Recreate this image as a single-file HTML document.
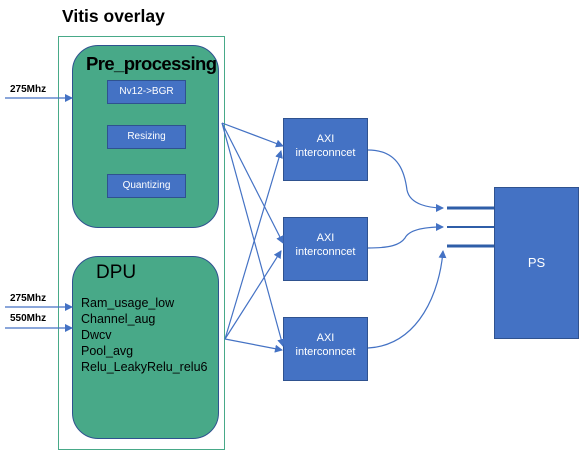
<!DOCTYPE html>
<html><head><meta charset="utf-8"><style>
body{margin:0;width:579px;height:450px;background:#fff;overflow:hidden;position:relative;font-family:"Liberation Sans","Noto Sans CJK SC",sans-serif}
div{position:absolute;box-sizing:border-box}
.g{background:#48a988;border:1px solid #2f528f;border-radius:26px}
.s{background:#4472c4;border:1px solid #2f528f;color:#fff;font-size:10px;text-align:center;line-height:22px}
.b{background:#4472c4;border:1px solid #2f528f;color:#fff;font-size:11px;text-align:center}
.t{font-size:10px;font-weight:bold;color:#000}
</style></head><body>
<div style="left:62px;top:6px;font-size:17.5px;font-weight:bold">Vitis overlay</div>
<div style="left:58px;top:36px;width:167px;height:414px;border:1px solid #48a988"></div>
<div class="g" style="left:72px;top:45px;width:147px;height:183px"></div>
<div style="left:86px;top:53px;font-size:18.5px;font-weight:bold;letter-spacing:-0.6px">Pre_processing</div>
<div class="s" style="left:107px;top:80px;width:79px;height:24px">Nv12->BGR</div>
<div class="s" style="left:107px;top:125px;width:79px;height:24px">Resizing</div>
<div class="s" style="left:107px;top:174px;width:79px;height:24px">Quantizing</div>
<div class="g" style="left:72px;top:256px;width:147px;height:183px"></div>
<div style="left:96px;top:262px;font-size:19px">DPU</div>
<div style="left:81px;top:295px;font-size:12.5px;line-height:16px">Ram_usage_low<br>Channel_aug<br>Dwcv<br>Pool_avg<br>Relu_LeakyRelu_relu6</div>
<div class="t" style="left:10px;top:84px">275Mhz</div>
<div class="t" style="left:10px;top:293px">275Mhz</div>
<div class="t" style="left:10px;top:313px">550Mhz</div>
<div class="b" style="left:283px;top:118px;width:85px;height:63px;padding-top:13px;line-height:14px">AXI<br>interconncet</div>
<div class="b" style="left:283px;top:217px;width:85px;height:64px;padding-top:13px;line-height:14px">AXI<br>interconncet</div>
<div class="b" style="left:283px;top:317px;width:85px;height:64px;padding-top:13px;line-height:14px">AXI<br>interconncet</div>
<div class="b" style="left:494px;top:187px;width:85px;height:152px;line-height:150px;font-size:13px">PS</div>
<svg width="579" height="450" style="position:absolute;left:0;top:0">
<defs><marker id="a" markerWidth="8" markerHeight="8" refX="7" refY="4" orient="auto" markerUnits="userSpaceOnUse"><path d="M0,0L8,4L0,8z" fill="#4472c4"/></marker></defs>
<g stroke="#4472c4" stroke-width="1.2" fill="none" marker-end="url(#a)">
<line x1="5" y1="98" x2="72" y2="98"/>
<line x1="5" y1="307" x2="72" y2="307"/>
<line x1="5" y1="328" x2="72" y2="328"/>
<line x1="222" y1="123" x2="283" y2="146"/>
<line x1="222" y1="123" x2="283" y2="243"/>
<line x1="222" y1="123" x2="283" y2="346"/>
<line x1="225" y1="339" x2="281" y2="151"/>
<line x1="225" y1="339" x2="281" y2="251"/>
<line x1="225" y1="339" x2="282" y2="350"/>
<path d="M368,150 C400,150 405,175 407,190 C410,205 430,208 443,208"/>
<path d="M368,248 C390,248 400,245 405,238 C410,228 430,227 443,227"/>
<path d="M368,348 C420,345 440,290 443,251"/>
</g>
<g stroke="#2f5ea8" stroke-width="3">
<line x1="447" y1="208" x2="494" y2="208"/>
<line x1="447" y1="227" x2="494" y2="227" stroke-width="2"/>
<line x1="447" y1="246" x2="494" y2="246"/>
</g>
</svg>
</body></html>
